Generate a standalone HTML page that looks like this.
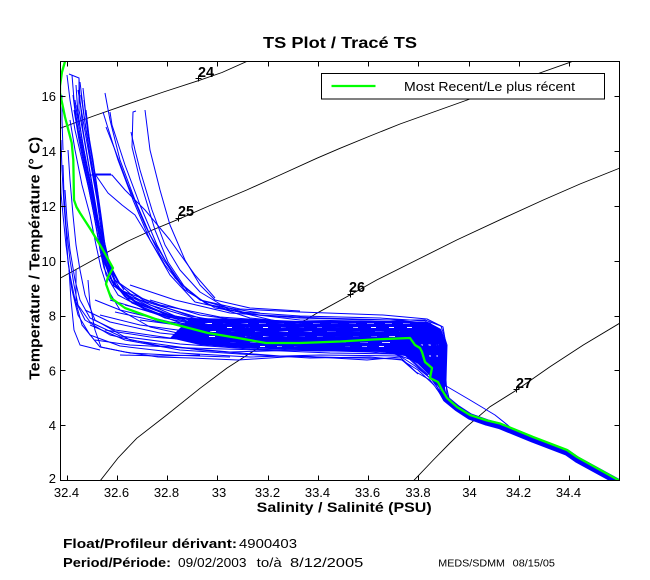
<!DOCTYPE html>
<html>
<head>
<meta charset="utf-8">
<style>
  html,body{margin:0;padding:0;background:#fff;}
  svg{display:block;}
  text{font-family:"Liberation Sans",Arial,sans-serif;fill:#000;}
  .b{font-weight:bold;}
</style>
</head>
<body>
<svg width="650" height="580" viewBox="0 0 650 580" xmlns="http://www.w3.org/2000/svg">
  <rect x="0" y="0" width="650" height="580" fill="#fff"/>
  <defs>
    <clipPath id="pc"><rect x="60.5" y="61.5" width="559" height="419"/></clipPath>
  </defs>

  <!-- Title -->
  <text class="b" x="263" y="48" font-size="15.5" textLength="154" lengthAdjust="spacingAndGlyphs">TS Plot / Tracé TS</text>

  <g clip-path="url(#pc)">
    <!-- density contours -->
    <g fill="none" stroke="#000" stroke-width="0.9">
      <polyline points="60,128.3 95,115.5 130,103.3 165,91.5 198.3,80.7 222,72.5 246.7,61.5 250,60"/>
      <polyline points="60,278.3 95,259 126.7,241.7 150,231 178.3,219.3 210,205.5 246.7,190 280,175 316.7,158.3 340,148.3 370,136 400,124 435,111.5 470,99 520,80 570,62.3 576,60"/>
      <polyline points="100,481 118,458 136.7,438.3 166.7,415 200,388.3 226.7,368.3 250,353.3 286.7,331.7 316.7,313.3 350,295 376.7,280 416.7,260 456.7,240 506.7,216.7 543.3,200 580,184 620,168"/>
      <polyline points="413.3,481 433.3,460 450,443 466.7,426.7 490,406.7 516.7,390 550,366.7 583.3,345 620,323"/>
    </g>

    <!-- blue dense core -->
    <polygon fill="#0000ff" points="190,318 250,319 300,321 360,321 400,321 428,322 441,329 446,342 446,386 442,392 436,384 428,374 418,364 405,356 380,352 330,351 300,350 240,348 200,345 170,338"/>
    <!-- white speckles in the core -->
    <g stroke="#fff" stroke-width="1" fill="none">
      <line x1="205" y1="323.5" x2="420" y2="323.5" stroke-dasharray="7 11"/>
      <line x1="215" y1="327.5" x2="425" y2="327.5" stroke-dasharray="5 13" stroke-dashoffset="6"/>
      <line x1="210" y1="331.5" x2="400" y2="331.5" stroke-dasharray="9 15" stroke-dashoffset="3"/>
      <line x1="200" y1="336.5" x2="405" y2="336.5" stroke-dasharray="6 12" stroke-dashoffset="9"/>
      <line x1="230" y1="342.5" x2="400" y2="342.5" stroke-dasharray="8 14" stroke-dashoffset="2"/>
      <line x1="250" y1="346.5" x2="390" y2="346.5" stroke-dasharray="5 12" stroke-dashoffset="7"/>
      <line x1="420" y1="345" x2="440" y2="345" stroke-dasharray="3 5"/>
      <line x1="422" y1="356" x2="440" y2="356" stroke-dasharray="2 5"/>
    </g>
    <!-- deep band -->
    <polyline fill="none" stroke="#0000ff" stroke-width="6.5" stroke-linejoin="round" points="441,390 446,399 457,408 470,416.5 487,422.5 500,426 533,439.5 567,452.5 577,459.5 620,483"/>

    <g fill="none" stroke="#0000ff" stroke-width="1" stroke-linejoin="round">
      <!-- right strands -->
      <polyline points="105,93 110,120 120,160 135,200 150,235 165,260 182,285 200,300 240,309 300,312 383,315 427,319 443,327 446,345 446,385 449,398"/>
      <polyline points="103,112 107,125 118,160 133,200 150,240 170,275 195,302 240,312 300,316 380,318 425,321 440,330 444,360 443,388 449,399"/>
      <polyline points="136,111 133,112 132,147 140,180 155,230 168,262 188,292 215,308 260,315 320,318 390,320 430,323 442,335 445,370 444,390 450,400"/>
      <polyline points="110,112 112,125 125,165 140,205 157,245 175,278 200,300 250,314 300,320 360,321 420,323 438,333 443,355 441,385 449,399"/>
      <polyline points="106,127 115,150 128,185 145,225 160,255 180,283 205,303 250,318 310,324 380,325 420,327 437,340 440,370 440,390"/>
      <polyline points="131,132 135,150 140,170 152,210 165,245 180,270 200,292 230,310 280,322 340,328 400,330 430,331 440,345 443,380 446,395"/>
      <polyline points="111,174 95,174 108,193 122,205 135,215 150,240 165,265 185,290 210,305 260,313"/>
      <polyline points="145,110 150,150 160,190 170,225 185,260 200,285 215,300 250,308 300,311"/>
      <polyline points="88,175 112,175 125,190 145,210 170,240 195,275 215,298"/>
      <!-- main left bundle -->
      <polyline points="67,75 70,100 75,130 82,160 89,190 96,225 100,250 104,268 112,285 140,300 200,318 260,330 320,335 400,335 425,336 435,350 438,375 442,392"/>
      <polyline points="72,75 74,100 78,130 85,165 92,200 98,230 102,255 106,275 118,295 150,312 210,328 280,336 350,338 410,339 428,345 435,365 440,388"/>
      <polyline points="79,78 80,100 83,130 88,160 94,195 99,225 104,255 110,278 125,297 170,315 230,330 300,340 370,341 412,342 428,355 436,375 442,392"/>
      <polyline points="69,74 79,78 79,110 86,150 92,185 97,215 103,245 108,265 116,285 140,305 190,322 250,334 320,343 380,344 413,346 425,362 436,382 444,395"/>
      <polyline points="76,85 78,115 84,150 91,185 98,220 104,250 110,272 122,292 160,312 220,328 290,338 360,336 420,333 436,340 442,365 442,390"/>
      <polyline points="73,95 76,120 82,150 88,180 95,210 100,240 105,262 112,282 135,302 180,320 240,335 300,346 380,348 408,350 422,362 434,378 443,394"/>
      <polyline points="74,110 79,140 86,175 93,210 98,238 104,262 114,286 145,310 200,330 260,342 330,349 400,352 415,360 430,375 440,392"/>
      <polyline points="78,90 83,120 90,160 97,200 101,230 106,258 115,280 135,298 175,316 240,327 310,332 390,331 425,330 440,338 444,370 443,392"/>
      <polyline points="81,95 86,130 92,165 99,205 104,240 108,262 118,282 150,305 200,320 270,326 340,327 410,326 432,328 444,342 446,380 447,396"/>
      <polyline points="70,120 75,150 82,185 90,215 96,245 101,268 108,290 120,310 150,327 210,340 280,346 360,346 410,345 426,355 434,372 442,392"/>
      <polyline points="75,100 80,135 87,170 94,205 99,232 103,255 109,276 128,300 165,318 230,332 300,337 380,339 420,340 432,356 440,385"/>
      <polyline points="77,105 82,140 88,172 95,208 100,236 106,262 113,283 132,303 170,318"/>
      <polyline points="84,100 88,135 94,170 100,210 104,240 110,265 120,284 145,300 190,316 250,326"/>
      <polyline points="80,82 84,115 89,150 95,185 100,215 103,240 107,262 116,282"/>
      <polyline points="83,88 87,125 93,160 98,195 102,228 106,252 112,272 124,290"/>
      <polyline points="86,110 90,145 96,180 101,215 105,245 110,268"/>
      <!-- left / vertical -->
      <polyline points="60,127 60,160 61,193 63,215 66,245 70,275 75,300 85,320 110,335 160,346 230,352 300,350 370,352 405,355 418,367 432,380 442,394"/>
      <polyline points="61,140 62,170 64,205 66,230 68,262 72,290 78,315 90,335 120,346 180,353 250,357 320,355 400,356 415,366 430,378"/>
      <polyline points="63,165 64,195 66,225 70,260 74,285 78,305 90,322 120,336 180,344 250,349 320,351 390,350 410,353 425,368 437,385"/>
      <polyline points="68,150 70,180 73,215 76,245 80,270 85,295 95,320 130,340 200,350 280,356 360,358 400,359 418,370 434,385"/>
      <polyline points="65,190 67,220 70,250 75,280 80,300 90,318 115,330 170,338 240,344 310,347 380,345 418,344 430,358 438,380"/>
      <polyline points="76,270 76,303 82,325 100,347 125,352 158,357 191,358 238,360 300,356 367,360 400,357 416,372 430,380 440,393"/>
      <polyline points="88,280 90,305 95,330 101,347 130,353 170,355 230,357"/>
      <polyline points="69,270 71,300 74,330 80,345 100,350"/>
      <polyline points="62,95 62,120 63,150"/>
      <!-- shallow/winter -->
      <polyline points="95,300 120,310 170,322 240,330 310,335 380,337 420,338 435,352 440,380"/>
      <polyline points="100,315 140,325 200,333 270,338 340,340 405,341 425,350 433,368 440,388"/>
      <polyline points="85,310 110,322 160,333 230,340 300,343 370,344 412,347 426,362 437,384"/>
      <polyline points="110,300 150,312 210,322 280,327 350,329 415,330 433,336 443,360 444,390"/>
      <polyline points="120,290 160,305 220,317 290,322 360,324 420,324 437,330 445,350 446,385"/>
      <polyline points="130,285 175,300 230,313 300,318 370,320 425,320 441,326 447,345 446,380"/>
      <polyline points="150,300 200,315 260,323 330,325 400,326 430,327 442,336 446,360"/>
      <polyline points="95,340 130,345 190,348 260,350 330,353 395,354 412,360 428,375"/>
      <polyline points="105,330 150,337 220,342 300,344 370,342 415,341 430,352 438,372"/>
      <polyline points="140,320 200,328 260,334 330,336 400,335 428,337 440,350 443,385"/>
      <polyline points="115,312 160,322 230,330 300,333 360,333 420,331 436,338 444,362"/>
      <polyline points="125,305 175,318 240,325 320,329 400,329"/>
      <polyline points="90,325 125,340 180,350 240,354 310,358 370,357 402,360 418,374"/>
      <polyline points="120,355 160,356 200,355"/>
      <!-- deep strays -->
      <polyline points="441,383 470,400 495,415 510,427"/>
      <polyline points="436,388 446,402 460,410"/>
    </g>

    <!-- most recent profile -->
    <polyline fill="none" stroke="#00ff00" stroke-width="2.3" stroke-linejoin="round" points="66,58 62,72 60,86 60,93 65,117 71.7,143 73.3,160 74,200 76.5,207 80,213 91,230 103,250 113,268 108,277 106,284 111,298 125,308 158,320 185,327 208,333 238,338 266,343 300,343 340,341.5 373,339.5 410,338 415,345 420,348 422,352 425,362 432,368 430,378 438,382 442,390 447,398 457,407 470,415 487,420.5 500,423.5 533,437 567,450 577,457 620,481"/>
  </g>

  <!-- contour labels -->
  <g fill="none" stroke="#000" stroke-width="1">
    <path d="M195.5,78.5h6M198.5,75.5v6"/>
    <path d="M175.5,218.5h6M178.5,215.5v6"/>
    <path d="M347.5,294.5h6M350.5,291.5v6"/>
    <path d="M513.5,389.5h6M516.5,386.5v6"/>
  </g>
  <text class="b" x="198" y="77" font-size="15" textLength="16" lengthAdjust="spacingAndGlyphs">24</text>
  <text class="b" x="178" y="216" font-size="15" textLength="16" lengthAdjust="spacingAndGlyphs">25</text>
  <text class="b" x="349" y="292" font-size="15" textLength="16" lengthAdjust="spacingAndGlyphs">26</text>
  <text class="b" x="516" y="388" font-size="15" textLength="16" lengthAdjust="spacingAndGlyphs">27</text>

  <!-- axes box -->
  <rect x="60.5" y="61.5" width="559" height="419" fill="none" stroke="#000" stroke-width="1"/>
  <!-- ticks -->
  <g stroke="#000" stroke-width="1">
    <path d="M67.5,480.5v-5M117.5,480.5v-5M167.5,480.5v-5M217.5,480.5v-5M268.5,480.5v-5M318.5,480.5v-5M368.5,480.5v-5M418.5,480.5v-5M469.5,480.5v-5M519.5,480.5v-5M569.5,480.5v-5"/>
    <path d="M67.5,61.5v5M117.5,61.5v5M167.5,61.5v5M217.5,61.5v5M268.5,61.5v5M318.5,61.5v5M368.5,61.5v5M418.5,61.5v5M469.5,61.5v5M519.5,61.5v5M569.5,61.5v5"/>
    <path d="M60.5,425.5h5M60.5,370.5h5M60.5,316.5h5M60.5,261.5h5M60.5,206.5h5M60.5,151.5h5M60.5,96.5h5"/>
    <path d="M619.5,425.5h-5M619.5,370.5h-5M619.5,316.5h-5M619.5,261.5h-5M619.5,206.5h-5M619.5,151.5h-5M619.5,96.5h-5"/>
  </g>

  <!-- x tick labels -->
  <g font-size="13" text-anchor="middle">
    <text x="66.5" y="497">32.4</text>
    <text x="116.5" y="497">32.6</text>
    <text x="166.5" y="497">32.8</text>
    <text x="219" y="497">33</text>
    <text x="267.5" y="497">33.2</text>
    <text x="317.5" y="497">33.4</text>
    <text x="367.5" y="497">33.6</text>
    <text x="418" y="497">33.8</text>
    <text x="469.5" y="497">34</text>
    <text x="518.5" y="497">34.2</text>
    <text x="568.5" y="497">34.4</text>
  </g>
  <!-- y tick labels -->
  <g font-size="13" text-anchor="end">
    <text x="56" y="483">2</text>
    <text x="56" y="430">4</text>
    <text x="56" y="375.5">6</text>
    <text x="56" y="320.5">8</text>
    <text x="56" y="266">10</text>
    <text x="56" y="211">12</text>
    <text x="56" y="156">14</text>
    <text x="56" y="101">16</text>
  </g>

  <!-- axis labels -->
  <text class="b" x="256.7" y="512" font-size="14" textLength="175" lengthAdjust="spacingAndGlyphs">Salinity / Salinité (PSU)</text>
  <text class="b" font-size="14.5" text-anchor="middle" transform="translate(39.5,258.3) rotate(-90)" textLength="243" lengthAdjust="spacingAndGlyphs">Temperature / Température (° C)</text>

  <!-- legend -->
  <rect x="321.5" y="73.5" width="283" height="25.5" fill="#fff" stroke="#000" stroke-width="1"/>
  <line x1="331.5" y1="86" x2="375.5" y2="86" stroke="#00ff00" stroke-width="2.3"/>
  <text x="404" y="91" font-size="12.5" textLength="171" lengthAdjust="spacingAndGlyphs">Most Recent/Le plus récent</text>

  <!-- footer -->
  <text class="b" x="63" y="548" font-size="13" textLength="174" lengthAdjust="spacingAndGlyphs">Float/Profileur dérivant:</text>
  <text x="239" y="548" font-size="13" textLength="58" lengthAdjust="spacingAndGlyphs">4900403</text>
  <text class="b" x="63" y="567" font-size="13" textLength="108" lengthAdjust="spacingAndGlyphs">Period/Période:</text>
  <text x="178" y="567" font-size="13" textLength="68.5" lengthAdjust="spacingAndGlyphs">09/02/2003</text>
  <text x="256.7" y="567" font-size="13" textLength="25" lengthAdjust="spacingAndGlyphs">to/à</text>
  <text x="290" y="567" font-size="13" textLength="73.3" lengthAdjust="spacingAndGlyphs">8/12/2005</text>
  <text x="438.3" y="566.5" font-size="10" textLength="66.7" lengthAdjust="spacingAndGlyphs">MEDS/SDMM</text>
  <text x="512.7" y="566.5" font-size="10" textLength="42.3" lengthAdjust="spacingAndGlyphs">08/15/05</text>
</svg>
</body>
</html>
